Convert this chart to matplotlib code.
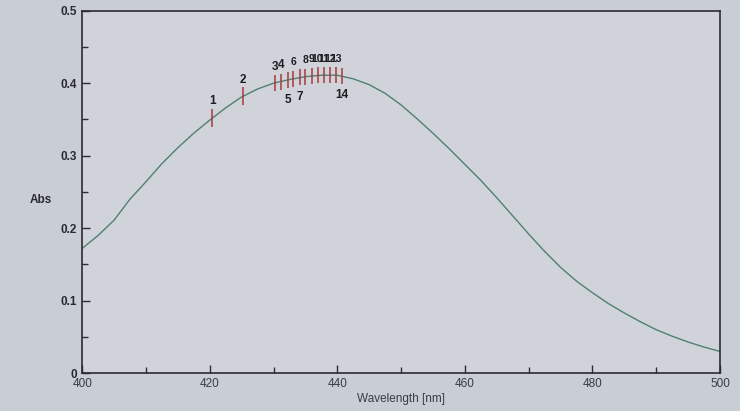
import matplotlib
matplotlib.use("Agg")
import matplotlib.pyplot as plt
from matplotlib.ticker import MultipleLocator

# Espectro (nm, Abs)
comprimento = [400.0, 402.5, 405.0, 407.5, 410.0, 412.5, 415.0, 417.5, 420.0, 422.5,
               425.0, 427.5, 430.0, 432.5, 435.0, 437.5, 440.0, 442.5, 445.0, 447.5,
               450.0, 452.5, 455.0, 457.5, 460.0, 462.5, 465.0, 467.5, 470.0, 472.5,
               475.0, 477.5, 480.0, 482.5, 485.0, 487.5, 490.0, 492.5, 495.0, 497.5, 500.0]
absorbancia = [0.172, 0.190, 0.211, 0.240, 0.264, 0.289, 0.311, 0.331, 0.349, 0.366,
               0.381, 0.392, 0.400, 0.405, 0.409, 0.411, 0.411, 0.406, 0.398, 0.386,
               0.370, 0.351, 0.331, 0.310, 0.288, 0.266, 0.242, 0.217, 0.192, 0.168,
               0.146, 0.127, 0.111, 0.096, 0.083, 0.071, 0.060, 0.051, 0.043, 0.036, 0.030]

# Marcadores de pico
marc_nm = [420.4, 425.2, 430.3, 431.2, 432.2, 433.1, 434.1, 435.0, 436.0, 436.9,
           437.9, 438.8, 439.8, 440.7]
marc_abs = [0.352, 0.382, 0.400, 0.402, 0.404, 0.406, 0.408, 0.409, 0.410, 0.411,
            0.411, 0.411, 0.411, 0.410]
marc_rotulos = ["1", "2", "3", "4", "5", "6", "7", "8", "9", "10", "11", "12", "13", "14"]
rotulos_abaixo = ["5", "7", "14"]

fundo = "#c9cdd4"
plt.rcParams["font.family"] = ["Liberation Sans", "DejaVu Sans"]

fig = plt.figure(figsize=(7.4, 4.11), dpi=100, facecolor=fundo)
ax = fig.add_axes([0.111, 0.092, 0.862, 0.882], facecolor="#d0d4da")

ax.plot(comprimento, absorbancia, color="#4f8072", lw=1.0)

for i, (x, y, r) in enumerate(zip(marc_nm, marc_abs, marc_rotulos)):
    tam = 13 if i < 2 else 11
    ax.plot([x], [y], marker="|", markersize=tam, mew=1.1, color="#a8383a")
    if r in rotulos_abaixo:
        ax.annotate(r, (x, y), xytext=(0, -14), textcoords="offset points",
                    ha="center", va="center", fontsize=8.5, color="#1c1c22",
                    fontweight="bold")
    elif i < 5:
        ax.annotate(r, (x, y), xytext=(0, 12), textcoords="offset points",
                    ha="center", va="center", fontsize=8.5, color="#1c1c22",
                    fontweight="bold")
    else:
        ax.annotate(r, (x, y), xytext=(0, 12), textcoords="offset points",
                    ha="center", va="center", fontsize=7.5, color="#1c1c22",
                    fontweight="bold")

ax.set_xlim(400, 500)
ax.set_ylim(0, 0.5)
ax.xaxis.set_major_locator(MultipleLocator(20))
ax.xaxis.set_minor_locator(MultipleLocator(10))
ax.yaxis.set_minor_locator(MultipleLocator(0.05))
ax.set_yticks([0, 0.1, 0.2, 0.3, 0.4, 0.5])
ax.set_yticklabels(["0", "0.1", "0.2", "0.3", "0.4", "0.5"], fontweight="bold")
ax.tick_params(which="both", direction="in", colors="#2a2a33", labelsize=8.5)
ax.tick_params(axis="x", labelcolor="#3c3c46")
ax.tick_params(which="major", length=6, width=1)
ax.tick_params(which="minor", length=4, width=1)
for s in ax.spines.values():
    s.set_color("#2a2a33")
    s.set_linewidth(1.2)

ax.set_xlabel("Wavelength [nm]", fontsize=8.5, color="#3c3c46", labelpad=2)
ax.set_ylabel("Abs", fontsize=8.5, color="#2a2a33", rotation=0, labelpad=8,
              fontweight="bold")
ax.yaxis.set_label_coords(-0.065, 0.46)

fig.savefig("out.png", dpi=100, facecolor=fundo)
